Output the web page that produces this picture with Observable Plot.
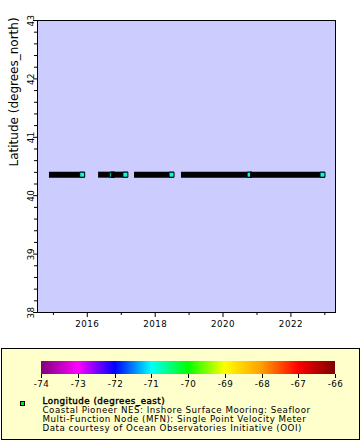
<!DOCTYPE html>
<html><head><meta charset="utf-8">
<script src="https://cdn.jsdelivr.net/npm/d3@7"></script>
<script src="https://cdn.jsdelivr.net/npm/@observablehq/plot@0.6"></script>
<style>
html,body{margin:0;padding:0;background:#fff;}
#wrap{position:relative;width:360px;height:440px;overflow:hidden;font-family:"DejaVu Sans",sans-serif;}
#chart{position:absolute;left:0;top:0;}
#legend{position:absolute;left:1px;top:348px;width:359px;height:92px;box-sizing:border-box;border:1px solid #000;background:#ffffcc;}
#ramp{position:absolute;left:24px;top:12px;}
#marker{position:absolute;left:18px;top:52px;width:5px;height:5px;box-sizing:border-box;border:1px solid #000;background:#00ee00;}
#ltext{position:absolute;left:0;top:0;}
</style>
</head><body>
<div id="wrap">
  <div id="chart"></div>
  <div id="legend"><div id="ramp"></div><div id="marker"></div><svg id="ltext" width="357" height="90"></svg></div>
</div>
<script>
// ---- data ----
const stationLat = 40.36;
const stationLon = -70.88;
const runStart = ["2014-12-22","2016-06-03","2016-10-21","2017-06-25","2018-11-12","2020-11-25"];
const runEnd   = ["2015-11-07","2016-09-26","2017-02-14","2018-06-26","2020-10-13","2022-12-07"];
const xDomain = ["2014-07-14","2023-04-26"];
const yDomain = [38, 43];
const yMajor = [38, 39, 40, 41, 42, 43];
const yMinor = [38.2,38.4,38.6,38.8,39.2,39.4,39.6,39.8,40.2,40.4,40.6,40.8,41.2,41.4,41.6,41.8,42.2,42.4,42.6,42.8];
const xMajorYears = ["2016","2018","2020","2022"];
const xMinorYears = ["2015","2017","2019","2021","2023"];
const rampTicks = [-74, -73, -72, -71, -70, -69, -68, -67, -66];
const rampColors = ["#800080","#ff00ff","#0000ff","#00ffff","#00ff00","#ffff00","#ffa000","#ff0000","#800000"];
const yTitle = "Latitude (degrees_north)";
const legendTitle = "Longitude (degrees_east)";
const legendLines = [
  "Coastal Pioneer NES: Inshore Surface Mooring: Seafloor",
  "Multi-Function Node (MFN): Single Point Velocity Meter",
  "Data courtesy of Ocean Observatories Initiative (OOI)"
];

const parse = s => new Date(s + "T00:00:00Z");
const runs = runStart.map((s, i) => ({start: parse(s), end: parse(runEnd[i]), lat: stationLat, lon: stationLon}));
const colorOpts = {type: "linear", domain: rampTicks, range: rampColors};
const smallFont = {fontFamily: "DejaVu Sans", fontSize: "8.7px", letterSpacing: "0.5px", background: "transparent", overflow: "visible", color: "black"};

const chart = Plot.plot({
  width: 360, height: 340,
  marginLeft: 37, marginRight: 25, marginTop: 20, marginBottom: 28,
  style: smallFont,
  x: {type: "utc", domain: xDomain.map(parse), label: null},
  y: {domain: yDomain, label: null},
  color: colorOpts,
  marks: [
    Plot.frame({fill: "#ccccff", stroke: "none"}),
    ...runs.flatMap(r => [
      Plot.ruleY([r], {y: "lat", x1: "start", x2: "end", stroke: "black", strokeWidth: 6, strokeLinecap: "square"}),
      Plot.dot([r], {x: "end", y: "lat", symbol: "square", r: 2.82, fill: "lon", stroke: "black", strokeWidth: 1})
    ]),
    Plot.axisY(yMinor, {tickSize: 3, tickFormat: () => "", label: null}),
    Plot.axisY(yMajor, {tickSize: 4, tickPadding: 0, tickRotate: -90, tickFormat: d => String(d), label: null}),
    Plot.axisX(xMinorYears.map(parse), {tickSize: 3, tickFormat: () => "", label: null}),
    Plot.axisX(xMajorYears.map(parse), {tickSize: 5, tickPadding: 3, tickFormat: "%Y", label: null}),
    Plot.text([yTitle], {text: d => d, frameAnchor: "left", dx: -23, rotate: -90, fontSize: 12, style: "letter-spacing:0"}),
    Plot.frame({stroke: "black"})
  ]
});
document.getElementById("chart").appendChild(chart);
d3.select(chart).selectAll("text").filter(function() { return this.textContent === yTitle; }).style("letter-spacing", "0px");

const ramp = Plot.legend({
  color: colorOpts,
  width: 324, height: 33, marginTop: 0, marginBottom: 20, marginLeft: 15, marginRight: 15,
  tickSize: 4, ticks: 8, tickFormat: d => String(d), label: null,
  style: smallFont
});
d3.select(ramp).selectAll(".tick line").attr("y1", 0);
document.getElementById("ramp").appendChild(ramp);

const lt = d3.select("#ltext").attr("font-family", "DejaVu Sans").attr("font-size", "8.7px").style("letter-spacing", "0.5px");
lt.append("text").attr("x", 40.5).attr("y", 55).attr("stroke", "black").attr("stroke-width", 0.4).text(legendTitle);
lt.selectAll("text.l").data(legendLines).join("text").attr("class", "l")
  .attr("x", 40.5).attr("y", (d, i) => 64 + i * 9).text(d => d);
</script>
</body></html>
